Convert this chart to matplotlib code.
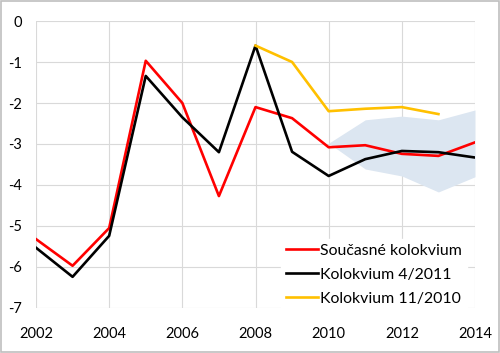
import matplotlib
matplotlib.use("Agg")
import matplotlib.pyplot as plt
from matplotlib.patches import Rectangle

plt.rcParams['font.family'] = ['Lato', 'DejaVu Sans']
plt.rcParams['axes.unicode_minus'] = False

years = list(range(2002, 2015))
soucasne = [-5.32, -5.97, -5.05, -0.97, -2.0, -4.27, -2.1, -2.37, -3.08, -3.03, -3.24, -3.29, -2.96]
kol_4_2011 = [-5.53, -6.24, -5.24, -1.34, -2.35, -3.2, -0.6, -3.19, -3.78, -3.37, -3.17, -3.2, -3.33]
years_11_2010 = [2008, 2009, 2010, 2011, 2012, 2013]
kol_11_2010 = [-0.6, -1.0, -2.2, -2.14, -2.1, -2.27]
fan_years = [2010, 2011, 2012, 2013, 2014]
fan_upper = [-2.98, -2.41, -2.32, -2.41, -2.17]
fan_lower = [-2.98, -3.61, -3.78, -4.17, -3.8]

labels = ["Současné kolokvium", "Kolokvium 4/2011", "Kolokvium 11/2010"]

fig = plt.figure(figsize=(5.0, 3.53), dpi=100)
ax = fig.add_axes([0.072, 0.1275, 0.878, 0.813])

ax.fill_between(fan_years, fan_lower, fan_upper, color='#dce6f1', linewidth=0, zorder=1)
ax.plot(years, soucasne, color='#ff0000', lw=1.9, label=labels[0], zorder=3)
ax.plot(years, kol_4_2011, color='#000000', lw=1.9, label=labels[1], zorder=3)
ax.plot(years_11_2010, kol_11_2010, color='#ffc000', lw=1.9, label=labels[2], zorder=3)

ax.set_xlim(2002, 2014)
ax.set_ylim(-7, 0)
ax.set_xticks(range(2002, 2015, 2))
ax.set_yticks(range(-7, 1))
ax.grid(True, color='#d9d9d9', lw=0.8, zorder=0)
ax.set_axisbelow(True)
for s in ax.spines.values():
    s.set_visible(False)
ax.tick_params(length=0, labelsize=10.5, colors='#000000')
ax.tick_params(axis='x', pad=14)
ax.tick_params(axis='y', pad=10)

leg = ax.legend(loc='lower right', bbox_to_anchor=(0.989, -0.02), frameon=True,
                fontsize=11.4, handlelength=2.05, handletextpad=0.15,
                borderaxespad=0.2, borderpad=0.3, labelspacing=0.62, fancybox=False)
leg.get_frame().set_edgecolor('white')
leg.get_frame().set_facecolor('white')
leg.get_frame().set_alpha(1.0)

fig.patches.append(Rectangle((0.002, 0.002), 0.996, 0.996, transform=fig.transFigure,
                             fill=False, edgecolor='#bfbfbf', lw=1.2))

fig.savefig('out.png', dpi=100)
